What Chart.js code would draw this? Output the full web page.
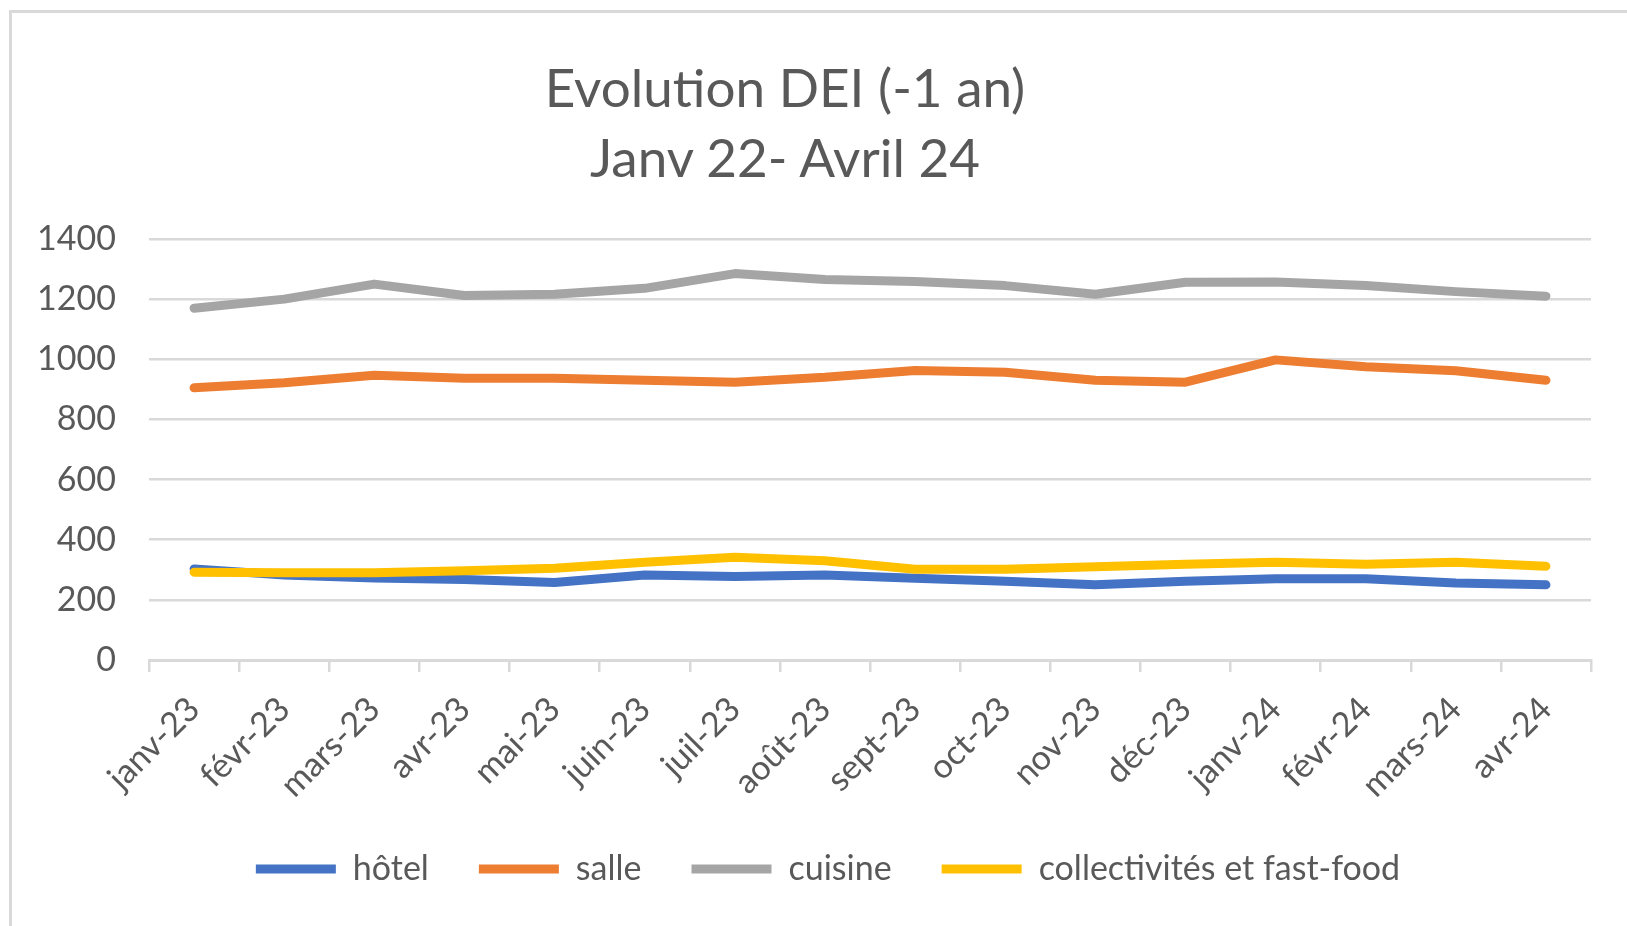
<!DOCTYPE html>
<html lang="fr">
<head>
<meta charset="utf-8">
<title>Evolution DEI</title>
<script src="https://cdn.jsdelivr.net/npm/chart.js@4.4.1/dist/chart.umd.min.js"></script>
<style>
  html, body { margin: 0; padding: 0; background: #fff; }
  body { width: 1627px; height: 926px; position: relative; overflow: hidden; }
  .frame {
    position: absolute; left: 9px; top: 10px; right: -10px; bottom: -10px;
    border-left: 3px solid #d9d9d9; border-top: 3px solid #d9d9d9;
  }
  .titre {
    position: absolute; left: 0; width: 1570px; top: 52px;
    text-align: center; font-family: Lato, sans-serif; font-size: 53px;
    line-height: 70px; color: #595959;
  }
  #dei { position: absolute; left: 0; top: 0; }
</style>
</head>
<body>
<div class="frame"></div>
<div class="titre">Evolution DEI (-1 an)<br>Janv 22- Avril 24</div>
<canvas id="dei" width="1627" height="926"></canvas>
<script>
// ---------- Données ----------
const mois = ["janv-23", "févr-23", "mars-23", "avr-23", "mai-23", "juin-23", "juil-23", "août-23",
  "sept-23", "oct-23", "nov-23", "déc-23", "janv-24", "févr-24", "mars-24", "avr-24"];
const hotel = [303, 283, 273, 268, 258, 283, 278, 283, 272, 262, 250, 262, 270, 270, 256, 250];
const salle = [905, 922, 947, 937, 937, 930, 924, 940, 963, 957, 930, 924, 998, 975, 962, 930];
const cuisine = [1170, 1200, 1250, 1212, 1216, 1236, 1285, 1265, 1259, 1245, 1216, 1256, 1257, 1245, 1225, 1210];
const collectivites = [292, 290, 290, 297, 305, 325, 342, 330, 302, 302, 310, 318, 325, 318, 325, 312];
const yTicks = [0, 200, 400, 600, 800, 1000, 1200, 1400];

const gris = "#595959";
const grille = "#d9d9d9";
const police = "Lato, sans-serif";

function serie(label, data, color, order) {
  return {
    label, data, order,
    borderColor: color,
    backgroundColor: color,
    borderWidth: 9,
    borderCapStyle: "round",
    borderJoinStyle: "round",
    pointRadius: 0,
    tension: 0,
  };
}

// la légende est centrée sur le cadre du graphique, pas sur toute la toile
const decalageLegende = {
  id: "decalageLegende",
  afterLayout(chart) {
    if (chart.legend) chart.legend.left = 65;
  },
};

new Chart(document.getElementById("dei"), {
  type: "line",
  data: {
    labels: mois,
    datasets: [
      serie("hôtel", hotel, "#4472c4", 4),
      serie("salle", salle, "#ed7d31", 3),
      serie("cuisine", cuisine, "#a5a5a5", 2),
      serie("collectivités et fast-food", collectivites, "#ffc000", 1),
    ],
  },
  plugins: [decalageLegende],
  options: {
    responsive: false,
    animation: false,
    layout: { padding: { top: 239, left: 0, right: 36, bottom: 30 } },
    plugins: {
      title: { display: false },
      tooltip: { enabled: false },
      legend: {
        position: "bottom",
        labels: {
          color: gris,
          font: { family: police, size: 34 },
          usePointStyle: true,
          pointStyle: "line",
          pointStyleWidth: 80,
          padding: 50,
          sort: (a, b) => a.datasetIndex - b.datasetIndex,
        },
      },
    },
    scales: {
      x: {
        offset: true,
        grid: { offset: true, drawOnChartArea: false, drawTicks: true, tickLength: 12, color: grille, lineWidth: 2.5 },
        border: { display: true, color: grille, width: 3 },
        ticks: {
          color: gris, font: { family: police, size: 34 },
          maxRotation: 45, minRotation: 45, padding: 17, autoSkip: false,
        },
        afterFit: (s) => { s.height = 142; },
      },
      y: {
        min: 0, max: 1400,
        afterBuildTicks: (s) => { s.ticks = yTicks.map((v) => ({ value: v })); },
        grid: { drawTicks: false, color: grille, lineWidth: 2.5 },
        border: { display: false },
        ticks: { color: gris, font: { family: police, size: 34 }, padding: 33, callback: (v) => String(v) },
        afterFit: (s) => { s.width = 149; },
      },
    },
  },
});
</script>
</body>
</html>
